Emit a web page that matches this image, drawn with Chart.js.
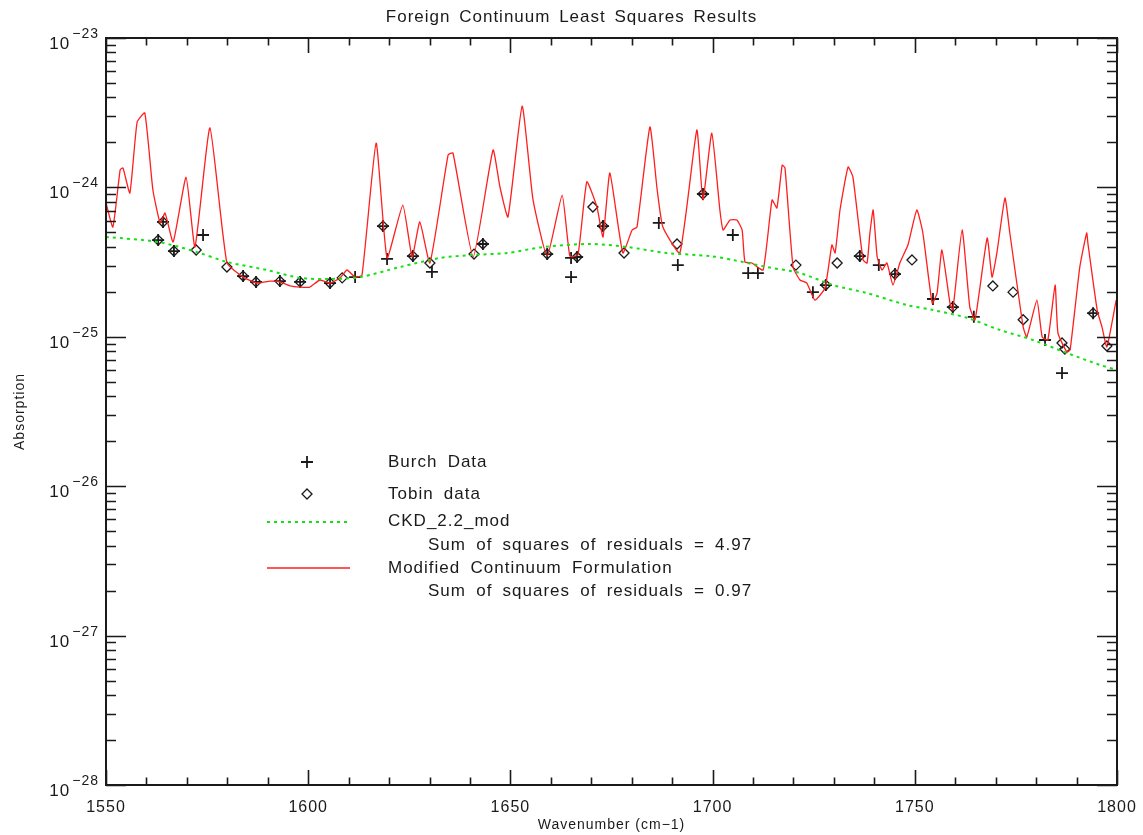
<!DOCTYPE html>
<html>
<head>
<meta charset="utf-8">
<title>Foreign Continuum Least Squares Results</title>
<script src="https://cdn.jsdelivr.net/npm/chart.js"></script>
<style>
  html, body { margin: 0; padding: 0; background: #fff; }
  #plot { display: block; }
</style>
</head>
<body>
<canvas id="plot" width="1143" height="835"></canvas>
<script>
// Modified continuum formulation (red)
const modelWave = [1550.0, 1551.7, 1553.5, 1554.2, 1555.9, 1557.7, 1559.6, 1561.6, 1563.4, 1564.6,
  1566.6, 1569.8, 1572.0, 1575.7, 1579.9, 1583.9, 1587.3, 1590.6, 1593.0, 1595.5,
  1598.0, 1600.4, 1602.9, 1605.4, 1607.9, 1609.6, 1611.6, 1613.3, 1616.8, 1619.5,
  1623.4, 1625.7, 1627.6, 1630.1, 1634.6, 1635.8, 1640.8, 1645.7, 1647.4, 1649.4,
  1652.9, 1655.6, 1659.1, 1662.8, 1664.7, 1666.7, 1668.9, 1671.4, 1672.9, 1674.6,
  1677.8, 1680.1, 1681.3, 1684.5, 1686.3, 1687.7, 1691.9, 1696.1, 1697.6, 1699.8,
  1701.8, 1702.6, 1704.3, 1706.0, 1707.3, 1708.0, 1709.7, 1712.5, 1714.7, 1715.9,
  1717.2, 1717.9, 1719.9, 1721.6, 1723.3, 1725.3, 1727.8, 1729.5, 1730.3, 1731.5,
  1733.5, 1734.7, 1737.2, 1738.2, 1738.9, 1739.7, 1740.7, 1741.9, 1743.1, 1744.6,
  1746.3, 1748.3, 1750.5, 1752.0, 1754.3, 1755.5, 1756.7, 1758.7, 1759.4, 1761.7,
  1763.6, 1764.9, 1767.9, 1769.1, 1770.3, 1772.3, 1773.5, 1776.8, 1777.7, 1780.2,
  1781.5, 1782.9, 1784.7, 1785.4, 1787.6, 1788.4, 1790.8, 1792.5, 1792.8, 1795.1,
  1796.3, 1797.5, 1799.8];
const modelAbs = [7.86e-25, 5.43e-25, 1.31e-24, 1.35e-24, 9.17e-25, 2.74e-24, 3.15e-24, 9.61e-25, 5.78e-25, 6.74e-25,
  4.31e-25, 1.17e-24, 3.99e-25, 2.50e-24, 3.12e-25, 2.51e-25, 2.29e-25, 2.36e-25, 2.33e-25, 2.19e-25,
  2.15e-25, 2.15e-25, 2.40e-25, 2.29e-25, 2.48e-25, 2.80e-25, 2.51e-25, 2.59e-25, 1.98e-24, 3.37e-25,
  7.62e-25, 3.42e-25, 5.87e-25, 3.12e-25, 1.65e-24, 1.70e-24, 3.42e-25, 1.78e-24, 1.01e-24, 6.34e-25,
  3.50e-24, 8.24e-25, 3.47e-25, 8.89e-25, 3.47e-25, 3.53e-25, 1.09e-24, 7.39e-25, 4.66e-25, 1.25e-24,
  3.64e-25, 5.19e-25, 5.43e-25, 2.54e-24, 9.61e-25, 5.43e-25, 3.64e-25, 2.42e-24, 8.24e-25, 2.31e-24,
  7.06e-25, 5.19e-25, 6.05e-25, 6.05e-25, 5.19e-25, 3.17e-25, 3.12e-25, 2.80e-25, 8.24e-25, 7.28e-25,
  1.41e-24, 1.35e-24, 2.93e-25, 2.40e-25, 2.29e-25, 1.76e-25, 2.12e-25, 4.12e-25, 3.64e-25, 7.06e-25,
  1.37e-24, 1.17e-24, 3.27e-25, 3.12e-25, 4.95e-25, 7.06e-25, 3.42e-25, 2.80e-25, 3.12e-25, 2.22e-25,
  3.12e-25, 4.12e-25, 7.06e-25, 4.95e-25, 1.68e-25, 1.96e-25, 3.81e-25, 1.68e-25, 1.51e-25, 5.19e-25,
  1.58e-25, 1.30e-25, 4.58e-25, 2.51e-25, 3.64e-25, 8.49e-25, 4.95e-25, 1.16e-25, 9.97e-26, 1.76e-25,
  9.97e-26, 9.52e-26, 2.22e-25, 1.06e-25, 7.91e-26, 8.16e-26, 2.93e-25, 4.95e-25, 4.24e-25, 1.51e-25,
  1.16e-25, 8.55e-26, 1.76e-25];

// CKD_2.2_mod continuum (green, dotted)
const ckdWave = [1550.0, 1562.9, 1572.5, 1579.9, 1589.8, 1598.0, 1605.4, 1612.8, 1622.7, 1632.6,
  1640.8, 1649.2, 1658.1, 1669.7, 1678.8, 1688.7, 1699.4, 1705.0, 1713.5, 1721.6,
  1729.8, 1738.2, 1748.1, 1754.5, 1762.9, 1771.1, 1779.2, 1787.6, 1795.8, 1800.0];
const ckdAbs = [4.66e-25, 4.31e-25, 3.69e-25, 3.17e-25, 2.80e-25, 2.48e-25, 2.44e-25, 2.51e-25, 2.93e-25, 3.37e-25,
  3.53e-25, 3.64e-25, 3.99e-25, 4.18e-25, 3.99e-25, 3.64e-25, 3.47e-25, 3.27e-25, 2.93e-25, 2.67e-25,
  2.22e-25, 1.96e-25, 1.63e-25, 1.51e-25, 1.34e-25, 1.11e-25, 9.52e-26, 7.79e-26, 6.48e-26, 6.00e-26];

// Burch measurements (+)
const burchWave = [1562.9, 1564.1, 1566.8, 1574.0, 1583.9, 1587.1, 1593.0, 1598.0, 1605.4, 1611.6,
  1618.5, 1619.5, 1625.9, 1630.6, 1643.2, 1659.1, 1665.0, 1666.5, 1665.0, 1672.9,
  1686.7, 1691.4, 1697.6, 1705.0, 1708.8, 1711.2, 1724.8, 1728.0, 1736.4, 1741.1,
  1745.1, 1754.5, 1759.4, 1764.6, 1782.2, 1786.4, 1794.1];
const burchAbs = [4.44e-25, 5.87e-25, 3.75e-25, 4.80e-25, 2.55e-25, 2.33e-25, 2.36e-25, 2.33e-25, 2.29e-25, 2.51e-25,
  5.51e-25, 3.32e-25, 3.47e-25, 2.72e-25, 4.18e-25, 3.58e-25, 3.37e-25, 3.42e-25, 2.51e-25, 5.51e-25,
  5.78e-25, 3.02e-25, 9.03e-25, 4.80e-25, 2.67e-25, 2.67e-25, 1.99e-25, 2.22e-25, 3.47e-25, 3.02e-25,
  2.63e-25, 1.79e-25, 1.58e-25, 1.36e-25, 9.52e-26, 5.72e-26, 1.44e-25];

// Tobin measurements (diamonds)
const tobinWave = [1562.9, 1564.1, 1566.8, 1572.3, 1579.9, 1583.9, 1587.1, 1593.0, 1598.0, 1605.4,
  1608.4, 1618.5, 1625.9, 1630.1, 1641.0, 1643.2, 1659.1, 1666.5, 1670.4, 1672.9,
  1678.1, 1691.2, 1697.6, 1720.6, 1728.0, 1730.8, 1736.4, 1745.1, 1749.3, 1759.4,
  1769.3, 1774.3, 1776.8, 1786.4, 1787.1, 1794.1, 1797.5];
const tobinAbs = [4.44e-25, 5.87e-25, 3.75e-25, 3.81e-25, 2.93e-25, 2.55e-25, 2.33e-25, 2.36e-25, 2.33e-25, 2.29e-25,
  2.48e-25, 5.51e-25, 3.47e-25, 3.12e-25, 3.58e-25, 4.18e-25, 3.58e-25, 3.42e-25, 7.39e-25, 5.51e-25,
  3.64e-25, 4.18e-25, 9.03e-25, 3.02e-25, 2.22e-25, 3.12e-25, 3.47e-25, 2.63e-25, 3.27e-25, 1.58e-25,
  2.19e-25, 1.99e-25, 1.30e-25, 9.09e-26, 8.28e-26, 1.44e-25, 8.68e-26];

// Axis ticks
const xMajorTicks = [1550, 1600, 1650, 1700, 1750, 1800];
const xMinorStep = 10;
const yDecades = [-28, -27, -26, -25, -24, -23];

const titleText = "Foreign Continuum Least Squares Results";
const xTitle = "Wavenumber (cm\u22121)";
const yTitle = "Absorption";
const legendLines = [
  "Burch Data",
  "Tobin data",
  "CKD_2.2_mod",
  "Sum of squares of residuals = 4.97",
  "Modified Continuum Formulation",
  "Sum of squares of residuals = 0.97"
];

const INK = "#1a1a1a";
const RED = "rgb(255,30,30)";
const GREEN = "rgb(20,225,20)";
const FONT = "'Liberation Sans', Arial, sans-serif";

const pts = (xs, ys) => xs.map((x, i) => ({ x: x, y: ys[i] }));

function drawPlus(ctx, x, y, r) {
  ctx.beginPath();
  ctx.moveTo(x - r, y); ctx.lineTo(x + r, y);
  ctx.moveTo(x, y - r); ctx.lineTo(x, y + r);
  ctx.stroke();
}

function drawDiamond(ctx, x, y, r) {
  ctx.beginPath();
  ctx.moveTo(x, y - r); ctx.lineTo(x + r, y);
  ctx.lineTo(x, y + r); ctx.lineTo(x - r, y);
  ctx.closePath();
  ctx.stroke();
}

// frame, inward ticks, labels and the in-plot legend
const axesPlugin = {
  id: "idlAxes",
  afterDraw(chart) {
    const ctx = chart.ctx;
    const area = chart.chartArea;
    const xs = chart.scales.x;
    const ys = chart.scales.y;
    ctx.save();
    ctx.strokeStyle = INK;
    ctx.fillStyle = INK;
    ctx.lineWidth = 2;
    ctx.strokeRect(area.left, area.top, area.right - area.left, area.bottom - area.top);

    // x ticks, bottom and top
    ctx.lineWidth = 1.6;
    for (let v = xMajorTicks[0]; v <= xMajorTicks[xMajorTicks.length - 1]; v += xMinorStep) {
      const px = Math.round(xs.getPixelForValue(v)) + 0.5;
      const len = xMajorTicks.includes(v) ? 15 : 7.5;
      ctx.beginPath();
      ctx.moveTo(px, area.bottom); ctx.lineTo(px, area.bottom - len);
      ctx.moveTo(px, area.top); ctx.lineTo(px, area.top + len);
      ctx.stroke();
    }
    // y ticks, left and right
    yDecades.forEach((e, i) => {
      const steps = i < yDecades.length - 1 ? [1, 2, 3, 4, 5, 6, 7, 8, 9] : [1];
      steps.forEach(m => {
        const py = Math.round(ys.getPixelForValue(m * Math.pow(10, e))) + 0.5;
        const len = m === 1 ? 20 : 10;
        ctx.beginPath();
        ctx.moveTo(area.left, py); ctx.lineTo(area.left + len, py);
        ctx.moveTo(area.right, py); ctx.lineTo(area.right - len, py);
        ctx.stroke();
      });
    });

    ctx.letterSpacing = "1px";
    // x tick labels
    ctx.font = "16px " + FONT;
    ctx.textAlign = "center";
    ctx.textBaseline = "middle";
    xMajorTicks.forEach(v => {
      ctx.fillText(String(v), xs.getPixelForValue(v), area.bottom + 23);
    });
    // y tick labels as 10 with a raised exponent
    yDecades.forEach(e => {
      const py = ys.getPixelForValue(Math.pow(10, e));
      ctx.textAlign = "right";
      ctx.textBaseline = "alphabetic";
      ctx.font = "14px " + FONT;
      const exp = "\u2212" + String(Math.abs(e));
      ctx.fillText(exp, area.left - 7, py);
      const expW = ctx.measureText(exp).width;
      ctx.font = "17px " + FONT;
      ctx.fillText("10", area.left - 9 - expW, py + 11);
    });

    // titles
    ctx.textAlign = "center";
    ctx.textBaseline = "middle";
    ctx.font = "17px " + FONT;
    ctx.wordSpacing = "3px";
    ctx.fillText(titleText, chart.width / 2, 17);
    ctx.wordSpacing = "0px";
    ctx.font = "14px " + FONT;
    ctx.fillText(xTitle, (area.left + area.right) / 2, 825);
    ctx.save();
    ctx.translate(20, (area.top + area.bottom) / 2);
    ctx.rotate(-Math.PI / 2);
    ctx.fillText(yTitle, 0, 0);
    ctx.restore();

    // legend
    ctx.textAlign = "left";
    ctx.font = "17px " + FONT;
    ctx.wordSpacing = "4.5px";
    ctx.lineWidth = 1.8;
    drawPlus(ctx, 307, 462, 6);
    ctx.lineWidth = 1.3;
    drawDiamond(ctx, 307, 494, 5);
    ctx.strokeStyle = GREEN;
    ctx.lineWidth = 2;
    ctx.setLineDash([3, 4]);
    ctx.beginPath(); ctx.moveTo(267, 522); ctx.lineTo(350, 522); ctx.stroke();
    ctx.setLineDash([]);
    ctx.strokeStyle = RED;
    ctx.lineWidth = 1.3;
    ctx.beginPath(); ctx.moveTo(267, 568); ctx.lineTo(350, 568); ctx.stroke();
    const ly = [462, 494, 521, 545, 568, 591];
    const lx = [388, 388, 388, 428, 388, 428];
    legendLines.forEach((t, i) => ctx.fillText(t, lx[i], ly[i]));
    ctx.restore();
  }
};

new Chart(document.getElementById("plot"), {
  type: "scatter",
  data: {
    datasets: [
      {
        label: "CKD_2.2_mod",
        data: pts(ckdWave, ckdAbs),
        showLine: true,
        borderColor: GREEN,
        borderWidth: 2,
        borderDash: [3, 4],
        pointRadius: 0,
        tension: 0.3
      },
      {
        label: "Modified Continuum Formulation",
        data: pts(modelWave, modelAbs),
        showLine: true,
        borderColor: RED,
        borderWidth: 1.3,
        pointRadius: 0,
        tension: 0.15
      },
      {
        label: "Burch Data",
        data: pts(burchWave, burchAbs),
        pointStyle: "cross",
        pointRadius: 6,
        borderColor: INK,
        borderWidth: 1.8,
        backgroundColor: "transparent"
      },
      {
        label: "Tobin data",
        data: pts(tobinWave, tobinAbs),
        pointStyle: "rectRot",
        pointRadius: 5,
        borderColor: INK,
        borderWidth: 1.3,
        backgroundColor: "transparent"
      }
    ]
  },
  options: {
    responsive: false,
    animation: false,
    devicePixelRatio: 1,
    layout: { padding: { left: 106, top: 38, right: 26, bottom: 50 } },
    plugins: { legend: { display: false }, tooltip: { enabled: false } },
    scales: {
      x: { type: "linear", min: 1550, max: 1800, display: false },
      y: { type: "logarithmic", min: 1e-28, max: 1e-23, display: false }
    }
  },
  plugins: [axesPlugin]
});
</script>
</body>
</html>
